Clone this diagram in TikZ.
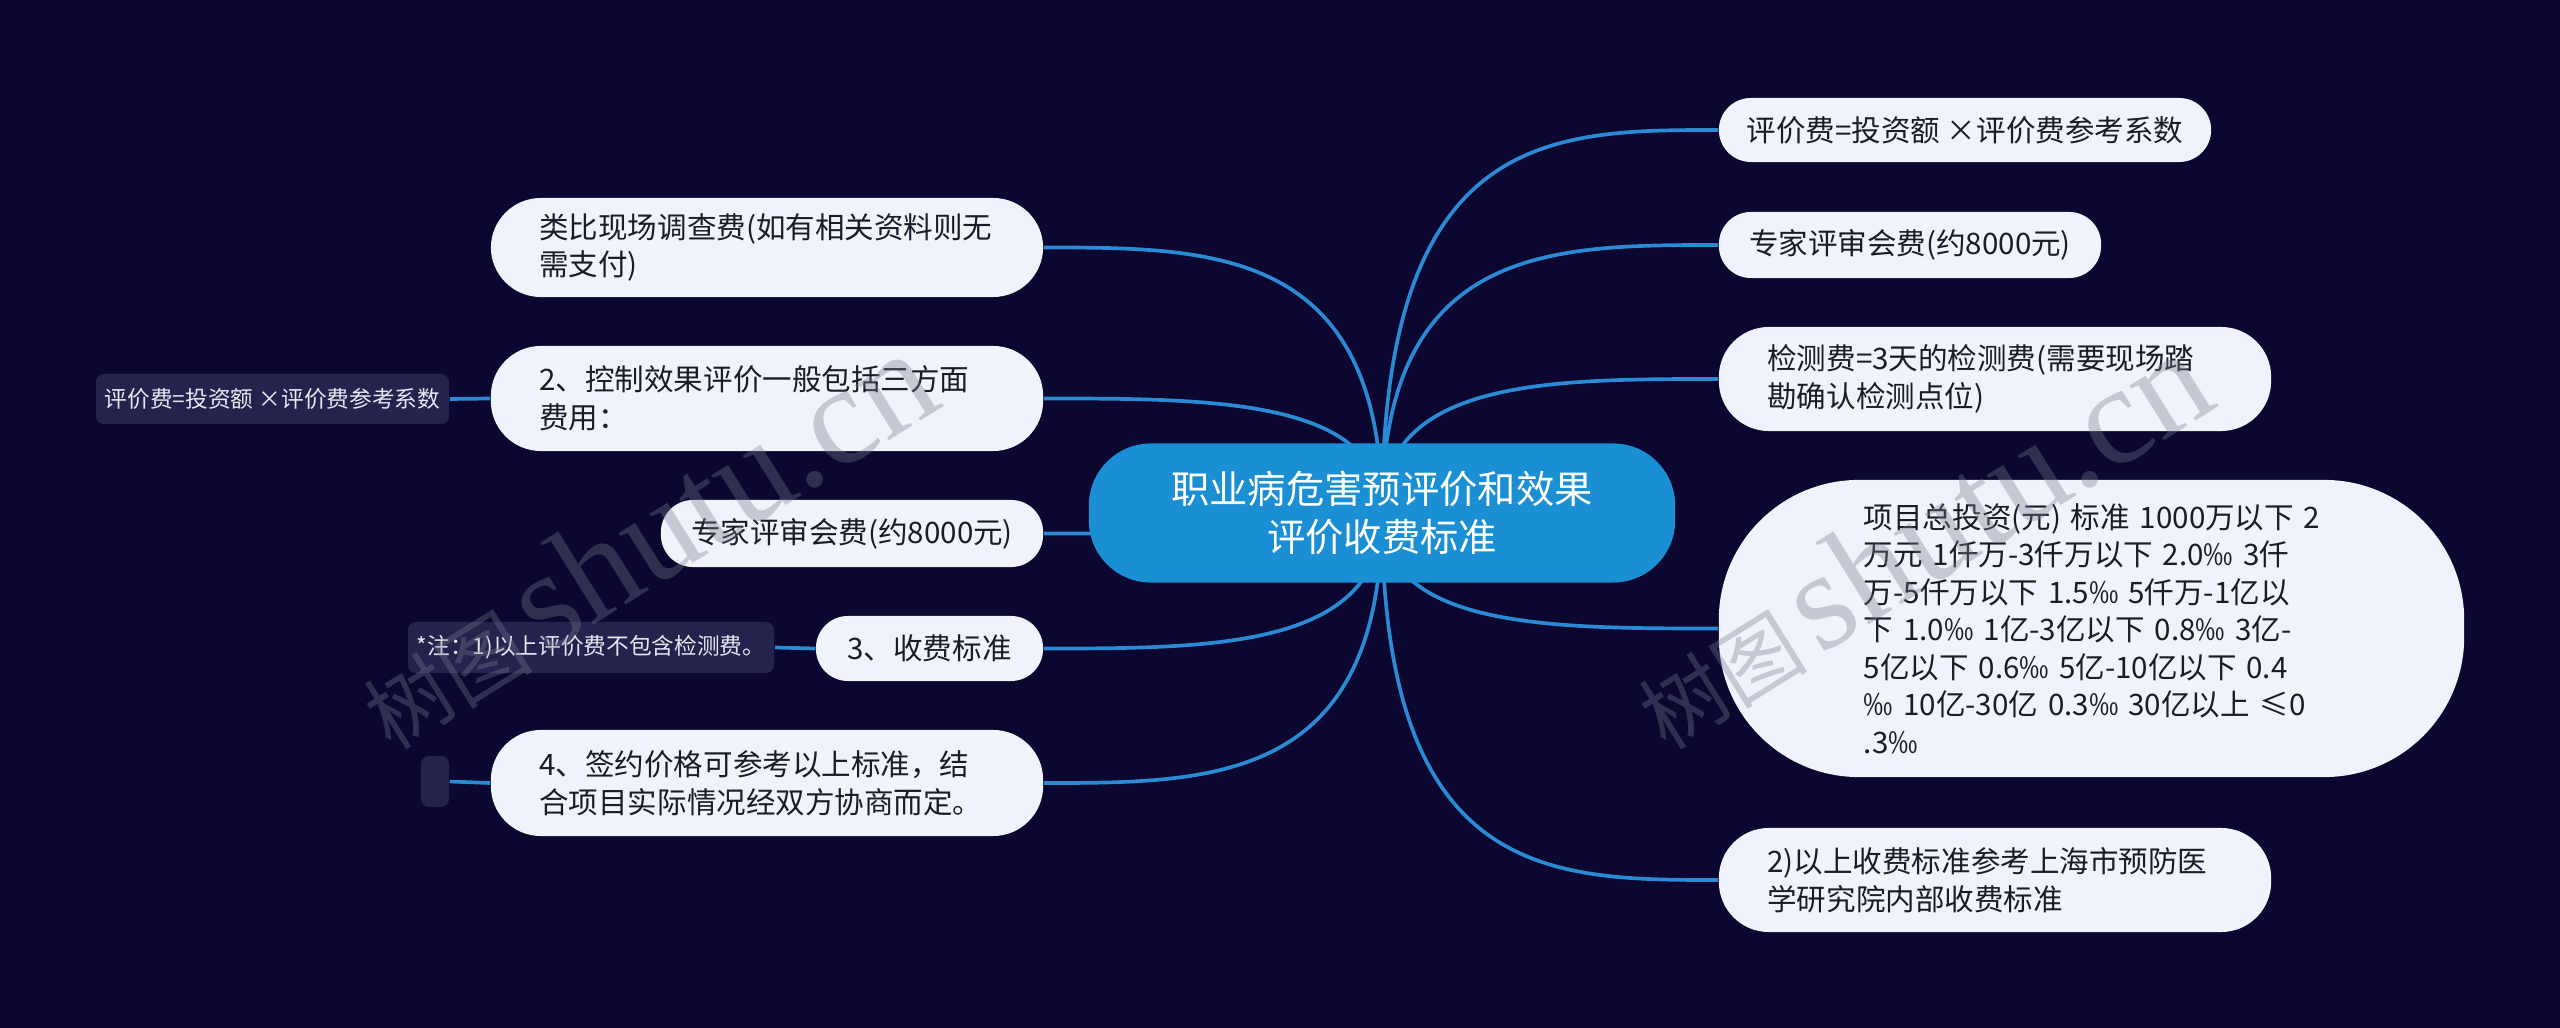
\documentclass[tikz,border=0pt]{standalone}
\usepackage{fontspec}
\setmainfont{Noto Sans CJK SC}
\newfontfamily\wmserif{Liberation Serif}
\usetikzlibrary{calc,backgrounds}
\definecolor{bg}{RGB}{11,7,48}
\definecolor{rootblue}{RGB}{26,143,211}
\definecolor{linkblue}{RGB}{42,139,212}
\definecolor{topicfill}{RGB}{238,243,252}
\definecolor{topictext}{RGB}{28,28,36}
\definecolor{leaffill}{RGB}{38,34,78}
\definecolor{leaftext}{RGB}{232,232,242}
\definecolor{wmgray}{RGB}{120,124,140}
\begin{document}
\begin{tikzpicture}[x=0.01cm,y=-0.01cm,
  rootbox/.style={rectangle, rounded corners=0.62cm, fill=rootblue, text=white,
    minimum width=5.86cm, minimum height=1.39cm, align=center,
    font=\fontsize{10.9pt}{13.9pt}\selectfont, inner sep=0pt},
  topic/.style={rectangle, fill=topicfill, text=topictext,
    font=\fontsize{8.4pt}{10.67pt}\selectfont, inner sep=0pt},
  one/.style={topic, rounded corners=0.32cm, minimum height=0.65cm},
  two/.style={topic, rounded corners=0.5cm, minimum height=1.04cm,
    minimum width=5.52cm, text width=4.55cm, align=left},
  leaf/.style={rectangle, rounded corners=0.08cm, fill=leaffill, text=leaftext,
    font=\fontsize{6.45pt}{8pt}\selectfont, inner sep=0pt, minimum height=0.5cm},
  conn/.style={draw=linkblue, line width=1.05pt},
  wm/.style={text=wmgray, opacity=0.35, rotate=32, inner sep=0pt}
]
\useasboundingbox (0,0) rectangle (2560,1028);

% central topic
\node[rootbox] (root) at (1382,513) {职业病危害预评价和效果\\评价收费标准};

% left branch
\node[two, minimum height=0.99cm] (l1) at (767,247.5) {类比现场调查费(如有相关资料则无\\需支付)};
\node[two, minimum height=1.05cm] (l2) at (767,398.5) {2、控制效果评价一般包括三方面\\费用：};
\node[one, minimum width=3.82cm, minimum height=0.67cm] (l3) at (852,533.5) {专家评审会费(约8000元)};
\node[one, minimum width=2.27cm] (l4) at (929.5,648.5) {3、收费标准};
\node[two, minimum height=1.06cm] (l5) at (767,783) {4、签约价格可参考以上标准，结\\合项目实际情况经双方协商而定。};

% left leaves
\node[leaf, minimum width=3.53cm] (k1) at (272.5,399) {评价费=投资额 ×评价费参考系数};
\node[leaf, minimum width=3.66cm, minimum height=0.51cm] (k2) at (591,647.5) {*注：1)以上评价费不包含检测费。};
\node[leaf, minimum width=0.28cm, minimum height=0.51cm] (k3) at (435,781.5) {};

% right branch
\node[one, minimum width=4.92cm, minimum height=0.64cm] (r1) at (1965,130) {评价费=投资额 ×评价费参考系数};
\node[one, minimum width=3.82cm, minimum height=0.66cm] (r2) at (1910,245) {专家评审会费(约8000元)};
\node[two, minimum height=1.04cm] (r3) at (1995,379) {检测费=3天的检测费(需要现场踏\\勘确认检测点位)};
\node[two, minimum width=7.45cm, minimum height=2.97cm, rounded corners=1.4cm] (r4) at (2091.5,628.5)
  {项目总投资(元)~标准~1000万以下~2\\万元~1仟万-3仟万以下~2.0‰~3仟\\万-5仟万以下~1.5‰~5仟万-1亿以\\下~1.0‰~1亿-3亿以下~0.8‰~3亿-\\5亿以下~0.6‰~5亿-10亿以下~0.4\\‰~10亿-30亿~0.3‰~30亿以上~≤0\\.3‰};
\node[two, minimum height=1.04cm] (r5) at (1995,880) {2)以上收费标准参考上海市预防医\\学研究院内部收费标准};

\begin{scope}[on background layer]
  \fill[bg] (0,0) rectangle (2560,1028);
  \foreach \n in {l1,l2,l3,l4,l5}
    \draw[conn] (root.center) .. controls (root.center |- \n.east) and ($(root.center |- \n.east)!0.5!(\n.east)$) .. (\n.east);
  \foreach \n in {r1,r2,r3,r4,r5}
    \draw[conn] (root.center) .. controls (root.center |- \n.west) and ($(root.center |- \n.west)!0.5!(\n.west)$) .. (\n.west);
  \draw[conn] (l2.west) -- (k1.east);
  \draw[conn] (l4.west) -- (k2.east);
  \draw[conn] (l5.west) -- (k3.east);
\end{scope}

% watermarks
\node[wm] (w1) at (645,540) {{\fontsize{24pt}{24pt}\selectfont 树图}\hspace{0.35em}{\wmserif\fontsize{40pt}{40pt}\selectfont shutu.cn}};
\node[wm] (w2) at (1920,540) {{\fontsize{24pt}{24pt}\selectfont 树图}\hspace{0.35em}{\wmserif\fontsize{40pt}{40pt}\selectfont shutu.cn}};
\end{tikzpicture}
\end{document}
